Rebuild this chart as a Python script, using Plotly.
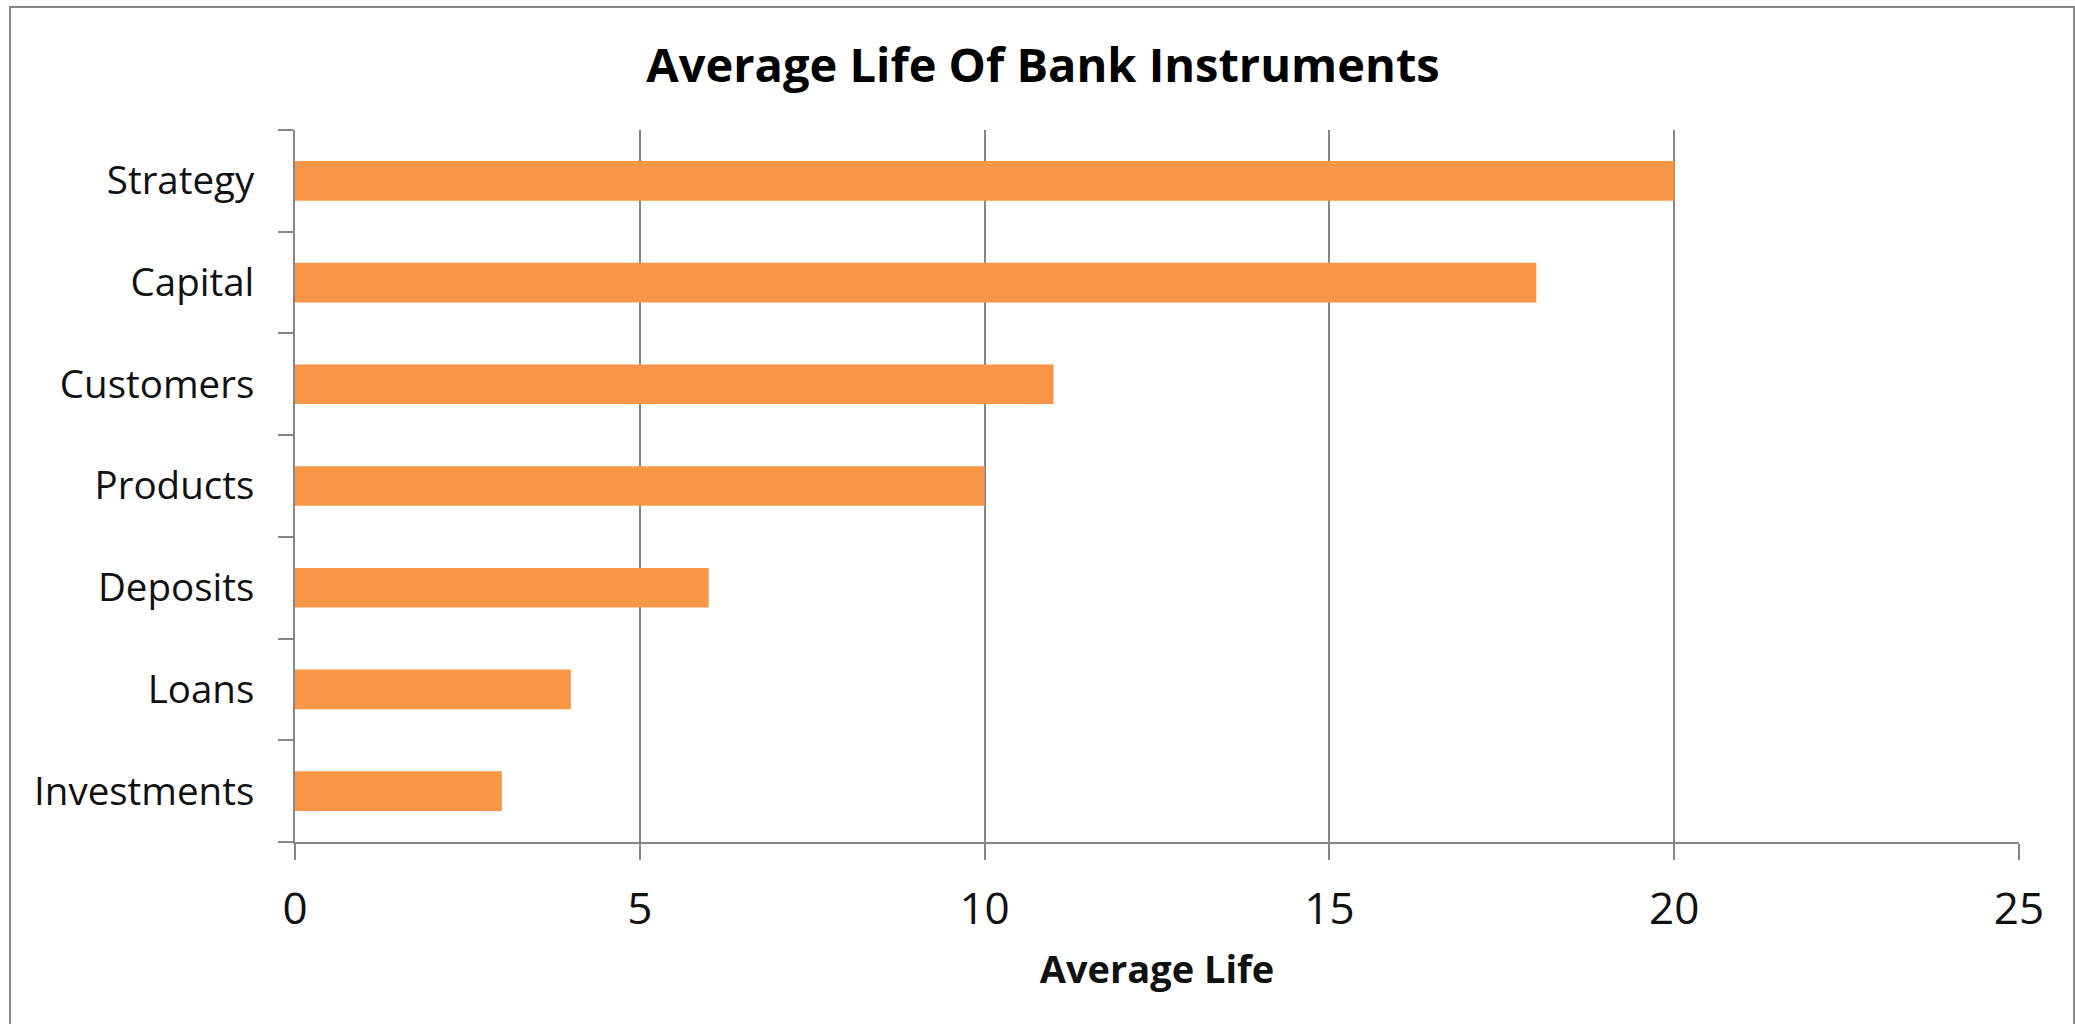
import plotly.graph_objects as go

categories = ["Investments", "Loans", "Deposits", "Products", "Customers", "Capital", "Strategy"]
values = [3, 4, 6, 10, 11, 18, 20]
x_ticks = [0, 5, 10, 15, 20, 25]

W, H = 2075, 1024
L, R, T, B = 295, 56, 130, 182
pw, ph = W - L - R, H - T - B

def px_x(p):
    return (p - L) / pw

def px_y(p):
    return (H - B - p) / ph

GRAY = "#878787"
ORANGE = "#F79646"
FONT = "Open Sans"

fig = go.Figure(go.Bar(
    x=values, y=categories, orientation="h",
    marker=dict(color=ORANGE, line=dict(width=0)),
    hoverinfo="x+y",
))

fig.update_layout(
    width=W, height=H,
    margin=dict(l=L, r=R, t=T, b=B),
    paper_bgcolor="white", plot_bgcolor="white",
    bargap=0.61,
    showlegend=False,
    title=dict(
        text="<b>Average Life Of Bank Instruments</b>",
        x=1043 / W, xanchor="center", xref="container",
        y=1 - 66 / H, yanchor="middle", yref="container",
        font=dict(family=FONT, size=47, color="#000000"),
    ),
    font=dict(family=FONT, color="#111111"),
    xaxis=dict(
        range=[0, 25], tickvals=x_ticks, ticktext=[str(v) for v in x_ticks],
        showgrid=True, gridcolor=GRAY, gridwidth=2,
        showline=True, linecolor=GRAY, linewidth=2,
        ticks="outside", ticklen=16, tickwidth=2, tickcolor=GRAY,
        tickfont=dict(family=FONT, size=44, color="#111111"),
        ticklabelstandoff=11,
        zeroline=False,
        title=dict(text="<b>Average Life</b>", font=dict(family=FONT, size=38, color="#111111"), standoff=21),
        fixedrange=True,
    ),
    yaxis=dict(
        categoryorder="array", categoryarray=categories,
        showgrid=False,
        showline=True, linecolor=GRAY, linewidth=2,
        ticks="outside", tickson="boundaries", ticklen=15, tickwidth=2, tickcolor=GRAY,
        tickfont=dict(family=FONT, size=38.5, color="#111111"),
        ticklabelstandoff=31,
        zeroline=False,
        fixedrange=True,
    ),
    shapes=[dict(
        type="rect", xref="paper", yref="paper",
        x0=px_x(10), x1=px_x(2074), y0=px_y(1030), y1=px_y(7),
        line=dict(color=GRAY, width=2), fillcolor="rgba(0,0,0,0)", layer="below",
    )],
)

fig.write_html("out.html")
